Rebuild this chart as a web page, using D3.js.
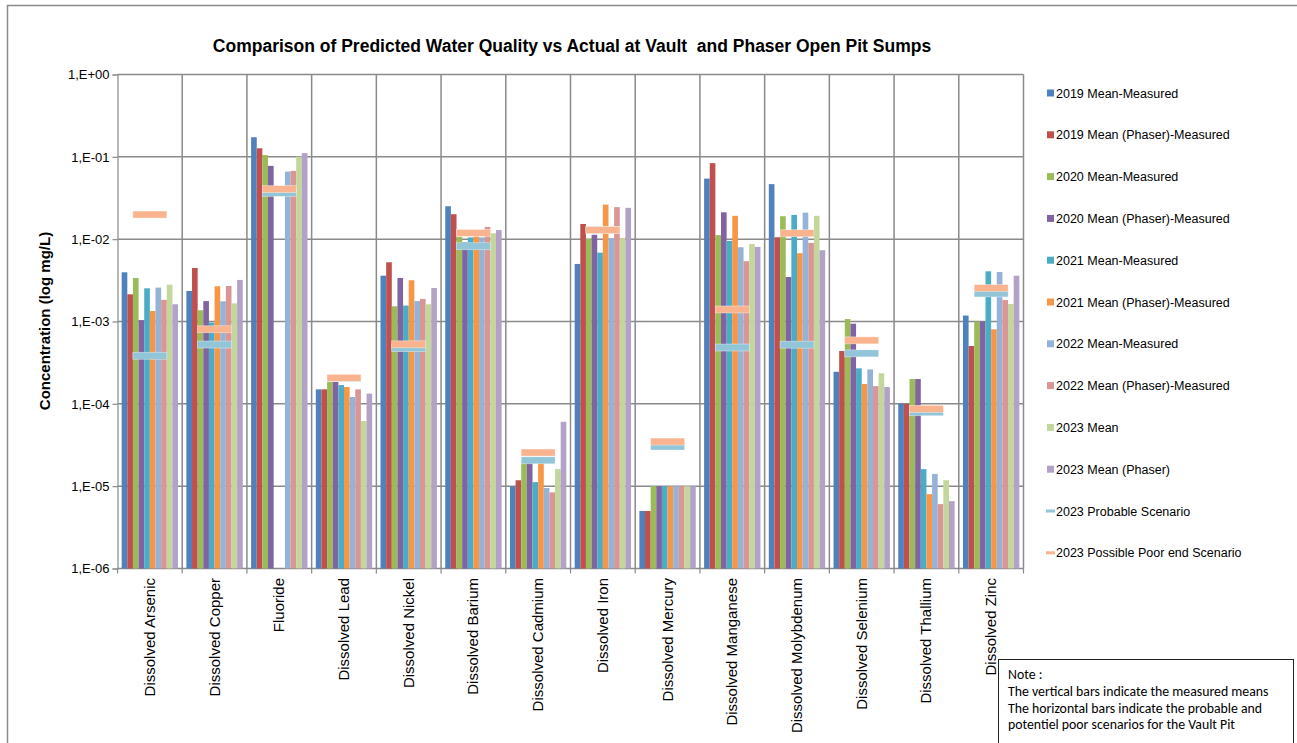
<!DOCTYPE html>
<html>
<head>
<meta charset="utf-8">
<script src="https://cdn.jsdelivr.net/npm/d3@7"></script>
<style>
  body { margin: 0; background: #fff; }
  svg { display: block; font-family: "Liberation Sans", Arial, sans-serif; }
  .grid line { stroke: #8a8a8a; stroke-width: 1.5; }
  .axis path, .axis line { stroke: #8a8a8a; stroke-width: 1.2; }
  .axis text { fill: #000; }
</style>
</head>
<body>
<svg id="chart" width="1297" height="743"></svg>
<script>

const categories = ["Dissolved Arsenic", "Dissolved Copper", "Fluoride", "Dissolved Lead", "Dissolved Nickel",
  "Dissolved Barium", "Dissolved Cadmium", "Dissolved Iron", "Dissolved Mercury", "Dissolved Manganese",
  "Dissolved Molybdenum", "Dissolved Selenium", "Dissolved Thallium", "Dissolved Zinc"];

const seriesNames = ["2019 Mean-Measured", "2019 Mean (Phaser)-Measured", "2020 Mean-Measured",
  "2020 Mean (Phaser)-Measured", "2021 Mean-Measured", "2021 Mean (Phaser)-Measured",
  "2022 Mean-Measured", "2022 Mean (Phaser)-Measured", "2023 Mean", "2023 Mean (Phaser)"];

const seriesColors = ["#4f81bd", "#c0504d", "#9bbb59", "#8064a2", "#4bacc6", "#f79646",
  "#95b3d7", "#d99694", "#c3d69b", "#b2a2c7"];

// one array per series, in category order (null = no value)
const mean2019 =        [0.00396, 0.00235, 0.173, 0.00015, 0.0036, 0.0251, 0.0000099, 0.0050, 0.000005, 0.0544, 0.0466, 0.000245, 0.0001, 0.00118];
const phaser2019 =      [0.00214, 0.00447, 0.127, 0.00015, 0.00524, 0.0201, 0.0000118, 0.0153, 0.000005, 0.0838, 0.01055, 0.000438, 0.0001, 0.000504];
const mean2020 =        [0.00338, 0.00137, 0.105, 0.000185, 0.00153, 0.0107, 0.0000198, 0.0101, 0.00001, 0.0112, 0.019, 0.00107, 0.0002, 0.001];
const phaser2020 =      [0.00104, 0.00177, 0.0777, 0.000185, 0.00338, 0.0092, 0.00002, 0.0113, 0.00001, 0.0212, 0.00347, 0.00094, 0.0002, 0.001];
const mean2021 =        [0.00253, 0.00097, null, 0.000169, 0.00156, 0.0105, 0.0000112, 0.00686, 0.00001, 0.00952, 0.0197, 0.00027, 0.0000161, 0.00407];
const phaser2021 =      [0.00134, 0.00268, null, 0.00016, 0.00317, 0.0108, 0.000021, 0.0263, 0.00001, 0.0192, 0.00675, 0.000174, 0.000008, 0.000804];
const mean2022 =        [0.00258, 0.00176, 0.0662, 0.000121, 0.00177, 0.0105, 0.0000095, 0.0103, 0.00001, 0.00798, 0.021, 0.000262, 0.0000141, 0.004];
const phaser2022 =      [0.00183, 0.0027, 0.0675, 0.00015, 0.00188, 0.0141, 0.0000084, 0.0245, 0.00001, 0.0054, 0.009, 0.000164, 0.00000605, 0.00182];
const mean2023 =        [0.0028, 0.00166, 0.1007, 0.0000618, 0.00162, 0.0118, 0.0000161, 0.0104, 0.00001, 0.00875, 0.0192, 0.000235, 0.0000118, 0.00163];
const phaser2023 =      [0.00162, 0.0032, 0.111, 0.000133, 0.00255, 0.0129, 0.0000605, 0.024, 0.00001, 0.00805, 0.00734, 0.00016, 0.00000658, 0.0036];

const probable2023 =    [0.000384, 0.000525, 0.0365, 0.000205, 0.000474, 0.0082, 0.0000206, 0.0129, 0.0000303, 0.000483, 0.000523, 0.00041, 0.000079, 0.00219];
const poor2023 =        [0.0199, 0.000804, 0.0405, 0.000207, 0.000528, 0.0119, 0.0000256, 0.0129, 0.0000348, 0.0014, 0.0118, 0.00059, 0.000087, 0.00255];

const yTicks = [1e-6, 1e-5, 1e-4, 1e-3, 1e-2, 1e-1, 1];

const scenarioNames = ["2023 Probable Scenario", "2023 Possible Poor end Scenario"];
const scenarioColors = ["#92c5d7", "#f9b48f"];

const noteLines = ["Note :", "The vertical bars indicate the measured means",
  "The horizontal bars indicate the probable and", "potentiel poor scenarios for the Vault Pit"];

const seriesValues = [mean2019, phaser2019, mean2020, phaser2020, mean2021, phaser2021,
  mean2022, phaser2022, mean2023, phaser2023];
const scenarioValues = [probable2023, poor2023];

const svg = d3.select("#chart");

// outer chart frame
svg.append("rect")
  .attr("x", 7.5).attr("y", 5.5)
  .attr("width", 1310).attr("height", 760)
  .attr("fill", "none").attr("stroke", "#8a8a8a").attr("stroke-width", 1.5);

let plot = {left: 117.5, right: 1023.5, top: 74.5, bottom: 568.5};

let x = d3.scaleBand().domain(categories).range([plot.left, plot.right]).padding(0);
let xs = d3.scaleBand().domain(d3.range(seriesNames.length)).range([0, x.bandwidth()]).paddingInner(0).paddingOuter(0.74);
let y = d3.scaleLog().domain([1e-6, 1]).range([plot.bottom, plot.top]);

const fmt = d => {
  let e = Math.round(Math.log10(d));
  return "1,E" + (e >= 0 ? "+" : "-") + String(Math.abs(e)).padStart(2, "0");
};

// gridlines
let grid = svg.append("g").attr("class", "grid");
grid.selectAll(".hg").data(yTicks).join("line")
  .attr("x1", plot.left).attr("x2", plot.right)
  .attr("y1", d => y(d)).attr("y2", d => y(d));
grid.selectAll(".vg").data(categories.slice(1).concat(["end"])).join("line")
  .attr("x1", (d, i) => plot.left + (i + 1) * x.step())
  .attr("x2", (d, i) => plot.left + (i + 1) * x.step())
  .attr("y1", plot.top).attr("y2", plot.bottom);

// y axis
svg.append("g").attr("class", "axis")
  .attr("transform", `translate(${plot.left},0)`)
  .call(d3.axisLeft(y).tickValues(yTicks).tickFormat(fmt).tickSize(5).tickPadding(3))
  .call(g => g.selectAll("text").attr("font-size", 13).attr("font-family", "Liberation Sans, Arial, sans-serif"));

// x axis line + ticks at category boundaries
let xa = svg.append("g").attr("class", "axis");
xa.append("line").attr("x1", plot.left).attr("x2", plot.right)
  .attr("y1", plot.bottom).attr("y2", plot.bottom);
xa.selectAll(".xt").data(d3.range(categories.length + 1)).join("line")
  .attr("x1", i => plot.left + i * x.step()).attr("x2", i => plot.left + i * x.step())
  .attr("y1", plot.bottom).attr("y2", plot.bottom + 5);

// bars
seriesValues.forEach((vals, s) => {
  svg.append("g")
    .selectAll("rect")
    .data(categories.map((c, i) => ({c: c, v: vals[i]})).filter(d => d.v != null))
    .join("rect")
    .attr("x", d => x(d.c) + xs(s))
    .attr("width", xs.bandwidth())
    .attr("y", d => y(d.v))
    .attr("height", d => plot.bottom - y(d.v))
    .attr("fill", seriesColors[s]);
});

// scenario markers (horizontal bars)
scenarioValues.forEach((vals, s) => {
  svg.append("g")
    .selectAll("rect")
    .data(categories.map((c, i) => ({c: c, v: vals[i]})))
    .join("rect")
    .attr("x", d => x(d.c) + x.bandwidth() / 2 - 17)
    .attr("width", 34)
    .attr("y", d => y(d.v) - 3.5)
    .attr("height", 7)
    .attr("fill", scenarioColors[s])
    .attr("stroke", "#fff").attr("stroke-opacity", 0.6).attr("stroke-width", 0.6);
});

// category labels
svg.append("g")
  .selectAll("text")
  .data(categories)
  .join("text")
  .attr("transform", d => `translate(${x(d) + x.bandwidth() / 2 + 5},578) rotate(-90)`)
  .attr("text-anchor", "end")
  .attr("font-size", 15)
  .text(d => d);

// title
svg.append("text")
  .attr("x", 572).attr("y", 52)
  .attr("text-anchor", "middle")
  .attr("font-size", 17.5).attr("font-weight", "bold")
  .style("white-space", "pre")
  .text("Comparison of Predicted Water Quality vs Actual at Vault  and Phaser Open Pit Sumps");

// y label
svg.append("text")
  .attr("transform", "translate(50,321) rotate(-90)")
  .attr("text-anchor", "middle")
  .attr("font-size", 15).attr("font-weight", "bold")
  .text("Concentration (log mg/L)");

// legend
let legendItems = seriesNames.map((n, i) => ({name: n, color: seriesColors[i], line: false}))
  .concat(scenarioNames.map((n, i) => ({name: n, color: scenarioColors[i], line: true})));

let legend = svg.append("g").selectAll("g")
  .data(legendItems)
  .join("g")
  .attr("transform", (d, i) => `translate(1046,${93 + i * 41.8})`);

legend.append("rect")
  .attr("x", d => d.line ? 0 : 1)
  .attr("y", d => d.line ? -1.5 : -3.5)
  .attr("width", d => d.line ? 9 : 7)
  .attr("height", d => d.line ? 3 : 7)
  .attr("fill", d => d.color);

legend.append("text")
  .attr("x", 10).attr("y", 4.5)
  .attr("font-size", 12.5)
  .text(d => d.name);

// note box
svg.append("rect")
  .attr("x", 998.5).attr("y", 659.5)
  .attr("width", 295).attr("height", 100)
  .attr("fill", "#fff").attr("stroke", "#222").attr("stroke-width", 1);

svg.append("g").selectAll("text")
  .data(noteLines)
  .join("text")
  .attr("x", 1008)
  .attr("y", (d, i) => 679 + i * 16.8)
  .attr("font-family", "Carlito, Lato, sans-serif")
  .attr("font-size", 13.8)
  .text(d => d);

</script>
</body>
</html>
